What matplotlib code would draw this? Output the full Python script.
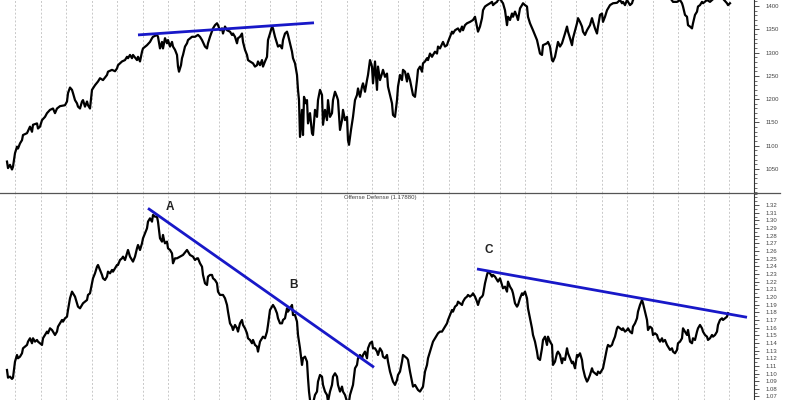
import matplotlib
matplotlib.use("Agg")
import matplotlib.pyplot as plt
import numpy as np
from matplotlib.ticker import MultipleLocator, FormatStrFormatter, FixedLocator
from matplotlib.lines import Line2D

plt.rcParams['font.family'] = ['Liberation Sans', 'DejaVu Sans']

# ---- data: upper panel (index price), (bar index, close) ----
spx_points = [
    (7,1066),(8,1052),(10,1059),(12,1049),(13,1055),(15,1084),(17,1098),(18,1094),(20,1105),(22,1112),
    (23,1123),(27,1127),(30,1141),(32,1130),(33,1145),(37,1148),(38,1137),(40,1141),(42,1155),(45,1162),
    (47,1170),(50,1177),(53,1180),(55,1170),(57,1180),(60,1185),(65,1187),(67,1195),(68,1213),(70,1225),
    (72,1220),(73,1213),(75,1198),(77,1191),(78,1184),(80,1180),(82,1195),(83,1198),(85,1184),(87,1195),
    (88,1187),(90,1180),(92,1220),(95,1230),(98,1238),(100,1245),(103,1241),(107,1252),(108,1259),(112,1263),
    (115,1260),(117,1266),(118,1273),(122,1281),(125,1284),(127,1291),(128,1288),(130,1295),(132,1288),(133,1295),
    (137,1284),(138,1291),(140,1281),(142,1302),(143,1309),(147,1316),(150,1323),(152,1331),(153,1334),(157,1338),
    (158,1334),(160,1309),(162,1323),(163,1309),(165,1331),(167,1320),(168,1327),(170,1313),(172,1323),(173,1313),
    (175,1306),(177,1295),(178,1270),(179,1259),(181,1273),(182,1288),(183,1295),(185,1313),(187,1320),(188,1327),
    (192,1334),(195,1334),(198,1338),(200,1334),(202,1327),(205,1313),(207,1309),(208,1320),(210,1334),(213,1352),
    (215,1359),(217,1363),(218,1359),(220,1348),(222,1352),(223,1341),(225,1356),(227,1348),(230,1345),(232,1338),
    (233,1341),(235,1334),(237,1320),(238,1331),(240,1334),(242,1341),(243,1323),(245,1306),(247,1295),(248,1284),
    (250,1281),(253,1277),(255,1270),(257,1273),(258,1281),(260,1273),(262,1284),(263,1270),(265,1281),(267,1291),
    (268,1327),(270,1341),(272,1356),(273,1352),(275,1334),(277,1320),(278,1313),(280,1316),(282,1309),(283,1327),
    (285,1341),(287,1345),(288,1338),(290,1320),(292,1302),(293,1288),(295,1277),(297,1252),(298,1220),(299,1198),
    (300,1119),(302,1177),(303,1123),(304,1205),(306,1191),(307,1198),(308,1148),(310,1170),(312,1127),(313,1123),
    (315,1177),(317,1162),(318,1198),(320,1220),(322,1209),(323,1145),(325,1177),(327,1155),(328,1198),(330,1162),
    (332,1170),(333,1198),(335,1216),(337,1205),(338,1198),(340,1134),(342,1155),(343,1177),(345,1155),(347,1162),
    (348,1112),(349,1102),(351,1134),(353,1162),(355,1198),(357,1209),(358,1223),(360,1205),(362,1227),(363,1234),
    (365,1216),(367,1241),(368,1252),(370,1284),(372,1270),(373,1234),(375,1281),(377,1220),(378,1270),(380,1241),
    (382,1255),(383,1263),(385,1248),(387,1255),(388,1227),(390,1209),(392,1191),(393,1166),(395,1162),(397,1198),
    (398,1227),(400,1252),(402,1241),(403,1263),(405,1259),(407,1238),(408,1255),(410,1241),(412,1220),(413,1209),
    (415,1205),(417,1241),(418,1263),(420,1270),(422,1259),(423,1277),(425,1281),(427,1288),(428,1284),(430,1298),
    (432,1291),(433,1295),(435,1302),(437,1298),(438,1313),(440,1309),(443,1323),(445,1313),(447,1316),(448,1323),
    (450,1334),(452,1345),(453,1341),(455,1348),(458,1352),(460,1345),(462,1356),(463,1348),(465,1359),(467,1363),
    (470,1366),(473,1370),(475,1377),(477,1356),(478,1345),(480,1356),(482,1374),(483,1391),(485,1399),(487,1402),
    (490,1406),(492,1409),(493,1402),(495,1406),(497,1409),(498,1413),(500,1416),(502,1409),(503,1406),(505,1391),
    (507,1359),(508,1377),(510,1370),(512,1384),(513,1377),(515,1388),(517,1377),(518,1370),(520,1395),(522,1402),
    (523,1406),(525,1402),(527,1399),(528,1377),(530,1363),(533,1348),(537,1327),(540,1298),(542,1295),(543,1316),
    (547,1320),(548,1323),(550,1313),(552,1284),(553,1281),(555,1291),(557,1313),(558,1323),(560,1313),(562,1320),
    (563,1327),(565,1341),(567,1356),(568,1345),(570,1331),(572,1316),(573,1331),(577,1363),(578,1374),(580,1366),
    (582,1356),(583,1345),(585,1338),(587,1348),(590,1359),(592,1374),(593,1366),(595,1352),(597,1341),(598,1356),
    (600,1381),(602,1384),(603,1366),(605,1377),(607,1391),(610,1402),(613,1406),(617,1407),(620,1413),(622,1406),
    (623,1409),(625,1402),(627,1413),(630,1402),(632,1406),(633,1413),(637,1425),(645,1435),(655,1440),(665,1430),
    (670,1418),(673,1409),(677,1409),(680,1413),(682,1406),(683,1399),(685,1381),(687,1377),(688,1359),(690,1356),
    (692,1352),(693,1363),(695,1381),(697,1388),(698,1399),(700,1402),(702,1409),(703,1406),(707,1413),(710,1409),
    (712,1413),(716,1420),(722,1418),(727,1406),(728,1402),(730,1406),
]

# ---- data: lower panel (Offense Defense ratio), (bar index, value) ----
od_points = [
    (7,1.1046),(8,1.0946),(10,1.0959),(12,1.0929),(13,1.0946),(15,1.1155),(17,1.1242),(18,1.1199),(20,1.1220),(22,1.1264),
    (23,1.1329),(25,1.1351),(27,1.1373),(28,1.1416),(30,1.1460),(32,1.1395),(33,1.1460),(35,1.1416),(37,1.1438),(38,1.1416),
    (40,1.1395),(42,1.1373),(43,1.1460),(45,1.1503),(47,1.1547),(48,1.1525),(50,1.1590),(52,1.1568),(53,1.1547),(55,1.1503),
    (57,1.1547),(58,1.1612),(60,1.1655),(62,1.1699),(63,1.1677),(65,1.1721),(67,1.1742),(68,1.1829),(70,1.1982),(72,1.2069),
    (73,1.2047),(75,1.2004),(77,1.1917),(78,1.1873),(80,1.1851),(82,1.1895),(83,1.1917),(85,1.1938),(87,1.1960),(88,1.2026),
    (90,1.2047),(92,1.2178),(93,1.2243),(95,1.2308),(97,1.2395),(98,1.2417),(100,1.2352),(102,1.2287),(103,1.2243),(105,1.2221),
    (107,1.2265),(108,1.2330),(110,1.2308),(112,1.2352),(113,1.2330),(115,1.2374),(117,1.2417),(118,1.2417),(120,1.2482),(122,1.2504),
    (123,1.2526),(125,1.2482),(127,1.2569),(128,1.2613),(130,1.2526),(132,1.2482),(133,1.2461),(135,1.2526),(137,1.2635),(138,1.2678),
    (140,1.2613),(142,1.2700),(143,1.2765),(145,1.2830),(147,1.2896),(148,1.2983),(150,1.3026),(152,1.2983),(153,1.3070),(155,1.3048),
    (157,1.3048),(158,1.2983),(160,1.2765),(162,1.2722),(163,1.2809),(164,1.2743),(165,1.2700),(167,1.2722),(168,1.2635),(170,1.2613),
    (172,1.2569),(173,1.2439),(175,1.2504),(177,1.2504),(180,1.2526),(183,1.2548),(187,1.2613),(188,1.2591),(190,1.2548),(193,1.2526),
    (195,1.2482),(197,1.2504),(198,1.2504),(200,1.2439),(202,1.2395),(203,1.2287),(205,1.2178),(207,1.2156),(208,1.2265),(210,1.2287),
    (212,1.2287),(213,1.2243),(215,1.2221),(217,1.2178),(218,1.2069),(220,1.2026),(223,1.2026),(225,1.1982),(227,1.1895),(228,1.1808),
    (230,1.1655),(232,1.1612),(233,1.1568),(235,1.1634),(237,1.1590),(238,1.1547),(240,1.1655),(242,1.1699),(243,1.1634),(245,1.1590),
    (247,1.1525),(248,1.1460),(250,1.1438),(252,1.1395),(253,1.1438),(255,1.1373),(257,1.1351),(258,1.1286),(260,1.1416),(262,1.1460),
    (263,1.1481),(265,1.1460),(267,1.1547),(268,1.1634),(270,1.1829),(272,1.1873),(273,1.1895),(275,1.1851),(277,1.1786),(278,1.1721),
    (280,1.1655),(282,1.1655),(283,1.1699),(285,1.1721),(287,1.1851),(288,1.1808),(290,1.1851),(292,1.1895),(293,1.1764),(295,1.1764),
    (297,1.1677),(298,1.1503),(300,1.1329),(302,1.1112),(303,1.1199),(305,1.1220),(307,1.1155),(308,1.0938),(309,1.0764),(310,1.0655),
    (312,1.0546),(313,1.0611),(315,1.0720),(317,1.0764),(318,1.0894),(320,1.0981),(322,1.0959),(323,1.0851),(325,1.0764),(327,1.0720),
    (328,1.0633),(330,1.0764),(332,1.0851),(333,1.0959),(335,1.1003),(337,1.0959),(338,1.0851),(340,1.0764),(342,1.0829),(343,1.0764),
    (345,1.0720),(347,1.0633),(348,1.0546),(350,1.0720),(352,1.0807),(353,1.0851),(355,1.1068),(357,1.1112),(358,1.1199),(360,1.1242),
    (362,1.1199),(363,1.1242),(365,1.1286),(367,1.1199),(368,1.1329),(370,1.1395),(372,1.1416),(373,1.1329),(375,1.1329),(377,1.1286),
    (378,1.1242),(380,1.1329),(382,1.1286),(383,1.1220),(385,1.1199),(387,1.1242),(388,1.1155),(390,1.1025),(392,1.0938),(393,1.0894),
    (395,1.0851),(397,1.0916),(398,1.0981),(400,1.1025),(402,1.1155),(403,1.1242),(405,1.1220),(407,1.1199),(408,1.1177),(410,1.1025),
    (412,1.0894),(413,1.0829),(415,1.0851),(417,1.0807),(418,1.0785),(420,1.0764),(422,1.0807),(423,1.0829),(425,1.1025),(427,1.1112),
    (428,1.1199),(430,1.1286),(432,1.1373),(433,1.1416),(435,1.1460),(437,1.1503),(438,1.1525),(440,1.1547),(442,1.1547),(443,1.1568),
    (445,1.1612),(447,1.1655),(448,1.1699),(450,1.1764),(452,1.1829),(453,1.1808),(455,1.1873),(457,1.1895),(458,1.1938),(460,1.1917),
    (462,1.1895),(463,1.1938),(465,1.1982),(467,1.2004),(468,1.2026),(470,1.2004),(472,1.2026),(473,1.2047),(475,1.2004),(477,1.1938),
    (478,1.1895),(480,1.1982),(482,1.2004),(483,1.2026),(485,1.2178),(487,1.2287),(488,1.2330),(490,1.2308),(492,1.2265),(493,1.2287),
    (495,1.2265),(497,1.2221),(498,1.2200),(500,1.2243),(502,1.2156),(503,1.2113),(505,1.2134),(507,1.2069),(508,1.2200),(510,1.2134),
    (512,1.2091),(513,1.2047),(515,1.1917),(517,1.1873),(518,1.1895),(520,1.1982),(522,1.2047),(523,1.2026),(525,1.2069),(527,1.1982),
    (528,1.1851),(530,1.1721),(532,1.1590),(533,1.1503),(535,1.1416),(537,1.1286),(538,1.1199),(540,1.1177),(542,1.1329),(543,1.1438),
    (545,1.1481),(547,1.1373),(548,1.1481),(550,1.1416),(552,1.1373),(553,1.1112),(555,1.1155),(557,1.1264),(558,1.1286),(560,1.1242),
    (562,1.1134),(563,1.1199),(565,1.1177),(567,1.1329),(568,1.1264),(570,1.1199),(572,1.1134),(573,1.1155),(575,1.1068),(577,1.1242),
    (578,1.1220),(580,1.1264),(582,1.1177),(583,1.1068),(585,1.0959),(587,1.0894),(588,1.0916),(590,1.0981),(592,1.1068),(593,1.1025),
    (595,1.1003),(597,1.0981),(598,1.1025),(600,1.1003),(602,1.1046),(603,1.1068),(605,1.1199),(607,1.1329),(608,1.1373),(610,1.1351),
    (612,1.1373),(613,1.1416),(615,1.1481),(617,1.1590),(618,1.1612),(620,1.1590),(622,1.1568),(623,1.1590),(625,1.1547),(627,1.1568),
    (628,1.1590),(630,1.1547),(632,1.1525),(633,1.1612),(635,1.1655),(637,1.1721),(638,1.1808),(640,1.1895),(642,1.1960),(643,1.1917),
    (645,1.1808),(647,1.1699),(648,1.1568),(650,1.1612),(652,1.1590),(653,1.1503),(655,1.1525),(657,1.1503),(658,1.1460),(660,1.1416),
    (662,1.1460),(663,1.1416),(665,1.1438),(667,1.1373),(668,1.1351),(670,1.1308),(672,1.1329),(673,1.1286),(675,1.1264),(677,1.1308),
    (678,1.1395),(680,1.1416),(682,1.1460),(683,1.1590),(685,1.1547),(687,1.1503),(688,1.1568),(690,1.1416),(692,1.1395),(693,1.1460),
    (695,1.1438),(697,1.1547),(698,1.1590),(700,1.1634),(702,1.1590),(703,1.1547),(705,1.1503),(707,1.1481),(708,1.1438),(710,1.1460),
    (712,1.1503),(713,1.1481),(715,1.1503),(717,1.1547),(718,1.1634),(720,1.1699),(722,1.1721),(723,1.1699),(725,1.1721),(727,1.1742),
    (728,1.1788),
]

# trend lines drawn on the chart (start, end) in data units
spx_trend = [(138, 1338), (314, 1364)]
od_trend_a = [(148, 1.3157), (374, 1.1081)]
od_trend_c = [(477, 1.2365), (747, 1.1734)]

# annotations
od_labels = ['A', 'B', 'C']
od_label_pos = [(170, 1.317), (293, 1.2152), (489, 1.2613)]

od_title = 'Offense Defense (1.17880)'
spx_ticks = [1050, 1100, 1150, 1200, 1250, 1300, 1350, 1400]
od_ticks = [round(1.07 + 0.01 * i, 2) for i in range(26)]

spx_x, spx_y = zip(*spx_points)
od_x, od_y = zip(*od_points)

BLUE = '#1818c8'
GRID = '#c8c8c8'

fig = plt.figure(figsize=(8, 4), dpi=100)
ax1 = fig.add_axes([0, 207 / 400, 754 / 800, 193 / 400])
ax2 = fig.add_axes([0, 0, 754 / 800, 207 / 400])

grid_x = np.arange(15, 740, 25.5)

for ax in (ax1, ax2):
    ax.set_xlim(0, 754)
    for s in ('top', 'left', 'bottom'):
        ax.spines[s].set_visible(False)
    ax.spines['right'].set_color('#333333')
    ax.spines['right'].set_linewidth(0.8)
    ax.yaxis.tick_right()
    ax.set_xticks(grid_x)
    ax.tick_params(axis='x', length=0, labelbottom=False)
    ax.grid(axis='x', color=GRID, linestyle=(0, (2, 2)), linewidth=0.7)
    ax.tick_params(axis='y', which='major', length=3.5, width=0.6, color='#333333',
                   labelsize=4.3, labelcolor='#444444', pad=5)
    ax.tick_params(axis='y', which='minor', length=2, width=0.5, color='#333333')
    ax.set_facecolor('white')

ax1.plot(spx_x, spx_y, color='black', lw=1.6, solid_joinstyle='round')
ax1.plot(*zip(*spx_trend), color=BLUE, lw=2.0, solid_capstyle='butt')
ax1.set_ylim(998.5, 1413)
ax1.yaxis.set_major_locator(FixedLocator(spx_ticks))
ax1.yaxis.set_minor_locator(MultipleLocator(10))
ax1.yaxis.set_major_formatter(FormatStrFormatter('%d'))

ax2.plot(od_x, od_y, color='black', lw=1.6, solid_joinstyle='round')
ax2.plot(*zip(*od_trend_a), color=BLUE, lw=2.0, solid_capstyle='butt')
ax2.plot(*zip(*od_trend_c), color=BLUE, lw=2.0, solid_capstyle='butt')
ax2.set_ylim(1.0654, 1.3357)
ax2.yaxis.set_major_locator(FixedLocator(od_ticks))
ax2.yaxis.set_minor_locator(MultipleLocator(0.005))
ax2.yaxis.set_major_formatter(FormatStrFormatter('%.2f'))

for lab, (lx, ly) in zip(od_labels, od_label_pos):
    ax2.text(lx, ly, lab, ha='center', va='center', fontsize=8.5, fontweight='bold', color='#222222')

# panel separator line
fig.add_artist(Line2D([0, 780 / 800], [207 / 400, 207 / 400], color='#555555', lw=0.9))
fig.text(380 / 800, 1 - 198 / 400, od_title, ha='center', va='center', fontsize=4.3, color='#444444')

fig.savefig('out.png', dpi=100, facecolor='white')
